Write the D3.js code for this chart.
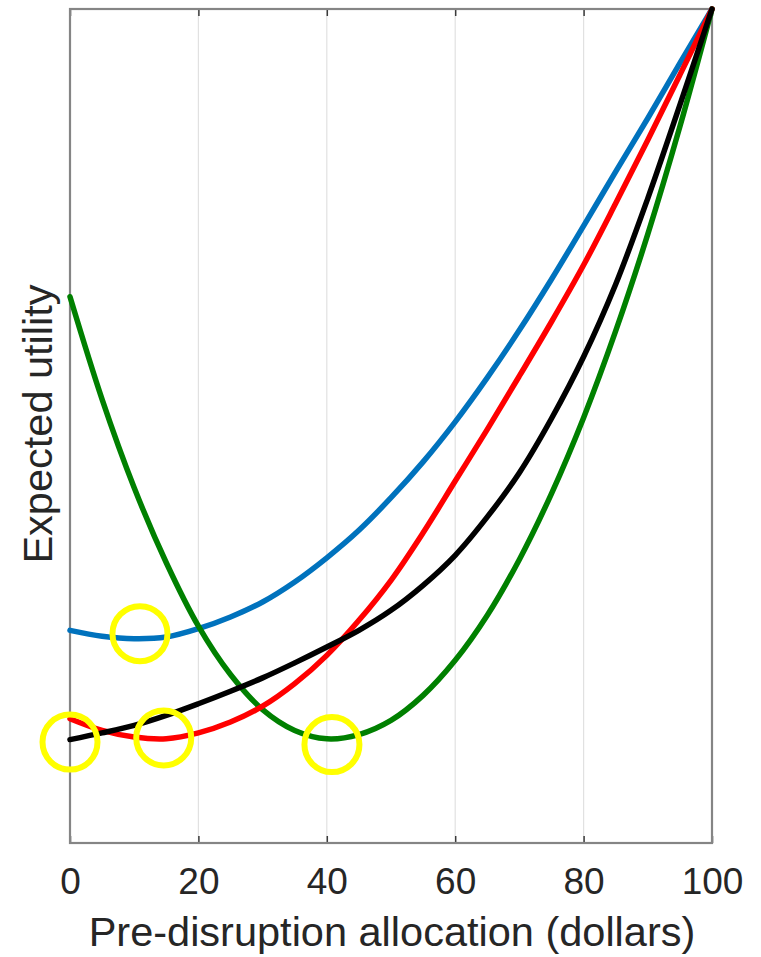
<!DOCTYPE html>
<html>
<head>
<meta charset="utf-8">
<script src="https://cdn.jsdelivr.net/npm/d3@7"></script>
<style>
  html, body { margin: 0; padding: 0; background: #ffffff; }
  svg { display: block; }
  text { font-family: "Liberation Sans", Arial, Helvetica, sans-serif; fill: #262626; }
</style>
</head>
<body>
<svg id="chart" width="761" height="957"></svg>
<script>
// Pre-disruption allocation (dollars), sampled every 5
const allocation = [0, 5, 10, 15, 20, 25, 30, 35, 40, 45, 50, 55, 60, 65, 70, 75, 80, 85, 90, 95, 100];

// Expected utility of each strategy (arbitrary units, 0–100)
const utilityBlue  = [25.5, 24.8, 24.5, 24.7, 25.7, 27.1, 28.9, 31.3, 34.2, 37.5, 41.4, 45.7, 50.5, 55.8, 61.5, 67.6, 74.0, 80.5, 86.9, 93.5, 100];
const utilityGreen = [65.5, 53.2, 42.6, 33.6, 26.0, 20.2, 16.0, 13.5, 12.5, 13.0, 14.7, 17.7, 21.9, 27.3, 34.0, 41.9, 51.0, 61.4, 73.0, 85.9, 100];
const utilityRed   = [14.9, 13.5, 12.7, 12.5, 13.2, 14.5, 16.4, 19.1, 22.5, 26.7, 31.5, 37.2, 43.4, 49.6, 56.0, 62.5, 69.3, 76.7, 84.3, 92.1, 100];
const utilityBlack = [12.4, 13.2, 14.1, 15.3, 16.7, 18.2, 19.8, 21.6, 23.5, 25.5, 27.9, 30.9, 34.5, 39.1, 44.4, 50.9, 58.3, 67.0, 77.3, 88.5, 100];

// Optimal (minimum) allocations highlighted with rings
const optimumX = [0, 10.9, 14.6, 40.8];
const optimumY = [12.1, 25.1, 12.6, 11.8];

// Axis ticks and labels
const xTicks = [0, 20, 40, 60, 80, 100];
const xGrid = [20, 40, 60, 80];
const xLabel = "Pre-disruption allocation (dollars)";
const yLabel = "Expected utility";

const series = [
  { values: utilityBlue,  color: "#0072BD" },
  { values: utilityGreen, color: "#008000" },
  { values: utilityRed,   color: "#FF0000" },
  { values: utilityBlack, color: "#000000" }
];

const plotLeft = 70, plotRight = 712, plotTop = 9, plotBottom = 843;
const svg = d3.select("#chart");

const x = d3.scaleLinear().domain([0, 100]).range([plotLeft, plotRight]);
const y = d3.scaleLinear().domain([0, 100]).range([plotBottom, plotTop]);

// Vertical grid lines
svg.append("g")
  .selectAll("line")
  .data(xGrid)
  .join("line")
  .attr("x1", d => x(d)).attr("x2", d => x(d))
  .attr("y1", plotTop).attr("y2", plotBottom)
  .attr("stroke", "#e1e1e1")
  .attr("stroke-width", 1.2);

// Bottom axis with inward ticks
const gx = svg.append("g")
  .attr("transform", `translate(0,${plotBottom})`)
  .call(d3.axisBottom(x).tickValues(xTicks).tickSizeInner(-7).tickSizeOuter(0).tickFormat(d3.format("d")));
gx.select(".domain").remove();
gx.selectAll(".tick line").attr("stroke", "#3a3a3a").attr("stroke-width", 1.5);
gx.selectAll(".tick text")
  .attr("y", 51).attr("dy", null)
  .attr("font-size", 37)
  .attr("font-family", "Liberation Sans, Arial, sans-serif")
  .attr("fill", "#262626");

// Top axis ticks (no labels)
const gxTop = svg.append("g")
  .attr("transform", `translate(0,${plotTop})`)
  .call(d3.axisTop(x).tickValues(xTicks).tickSizeInner(-7).tickSizeOuter(0).tickFormat(""));
gxTop.select(".domain").remove();
gxTop.selectAll(".tick line").attr("stroke", "#3a3a3a").attr("stroke-width", 1.5);

// Axes box
svg.append("rect")
  .attr("x", plotLeft).attr("y", plotTop)
  .attr("width", plotRight - plotLeft).attr("height", plotBottom - plotTop)
  .attr("fill", "none")
  .attr("stroke", "#858585")
  .attr("stroke-width", 2.2);

// Curves
const line = d3.line()
  .x((d, i) => x(allocation[i]))
  .y(d => y(d))
  .curve(d3.curveCatmullRom.alpha(0.5));

svg.append("g")
  .selectAll("path")
  .data(series)
  .join("path")
  .attr("d", s => line(s.values))
  .attr("fill", "none")
  .attr("stroke", s => s.color)
  .attr("stroke-width", 5.5)
  .attr("stroke-linejoin", "round")
  .attr("stroke-linecap", "round");

// Rings around optimal allocations
svg.append("g")
  .selectAll("circle")
  .data(optimumX.map((v, i) => [v, optimumY[i]]))
  .join("circle")
  .attr("cx", d => x(d[0]))
  .attr("cy", d => y(d[1]))
  .attr("r", 27.5)
  .attr("fill", "none")
  .attr("stroke", "#FFFF00")
  .attr("stroke-width", 6);

// Axis titles
svg.append("text")
  .attr("x", (plotLeft + plotRight) / 2 + 1)
  .attr("y", 946)
  .attr("text-anchor", "middle")
  .attr("font-size", 41.5)
  .text(xLabel);

svg.append("text")
  .attr("transform", `translate(52,${(plotTop + plotBottom) / 2 - 2}) rotate(-90)`)
  .attr("text-anchor", "middle")
  .attr("font-size", 41.5)
  .text(yLabel);
</script>
</body>
</html>
